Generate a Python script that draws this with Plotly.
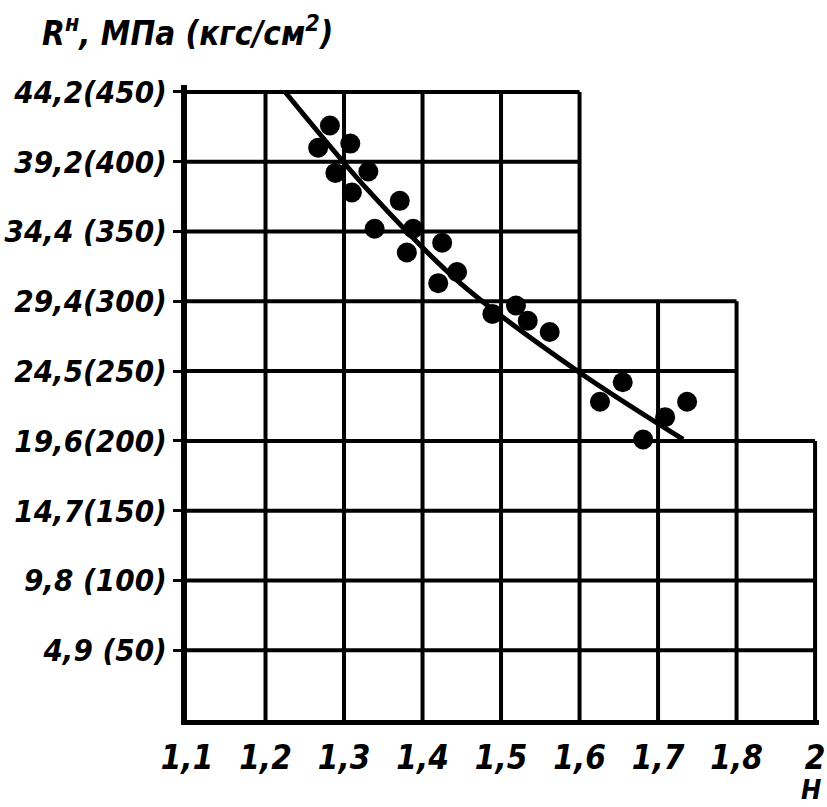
import plotly.graph_objects as go

# ---- data ----
pts_x = [1.282, 1.267, 1.308, 1.289, 1.331, 1.310, 1.371, 1.339, 1.388, 1.425, 1.380,
         1.444, 1.420, 1.489, 1.519, 1.534, 1.562, 1.626, 1.655, 1.681, 1.709, 1.737]
pts_y = [426, 410, 413, 392, 393, 378, 372, 352, 352, 342, 335,
         321, 313, 291, 297, 286, 278, 228, 242, 201, 217, 228]

fit_x = [1.225, 1.33, 1.448, 1.60, 1.732]
fit_y = [450, 380, 313, 249, 201]

x_ticks = [1.1, 1.2, 1.3, 1.4, 1.5, 1.6, 1.7, 1.8, 1.9]
x_labels = ["1,1", "1,2", "1,3", "1,4", "1,5", "1,6", "1,7", "1,8", "2"]
y_ticks = [50, 100, 150, 200, 250, 300, 350, 400, 450]
y_labels = ["4,9 (50)", "9,8 (100)", "14,7(150)", "19,6(200)", "24,5(250)",
            "29,4(300)", "34,4 (350)", "39,2(400)", "44,2(450)"]

# stepped grid outline: right edge of grid for each band (top value of band)
step_top = [450, 300, 200]
step_right = [1.6, 1.8, 1.9]

FONT = dict(family="DejaVu Sans Condensed, DejaVu Sans", size=32, color="black",
            weight="bold", style="italic")

fig = go.Figure()

shapes = []
GW = 4
def right_limit(v):
    r = step_right[0]
    for top, right in zip(step_top, step_right):
        if v <= top:
            r = right
    return r

def top_limit(x):
    t = step_top[0]
    for top, right in zip(step_top, step_right):
        if x <= right + 1e-9:
            t = top
            break
    return t

for v in y_ticks:
    shapes.append(dict(type="line", xref="x", yref="y", x0=x_ticks[0], x1=right_limit(v),
                       y0=v, y1=v, line=dict(color="black", width=GW), layer="below"))
for x in x_ticks[1:]:
    shapes.append(dict(type="line", xref="x", yref="y", x0=x, x1=x,
                       y0=0, y1=top_limit(x), line=dict(color="black", width=GW), layer="below"))

fig.add_trace(go.Scatter(x=fit_x, y=fit_y, mode="lines",
                         line=dict(color="black", width=5, shape="spline", smoothing=0.8),
                         showlegend=False, hoverinfo="skip"))
fig.add_trace(go.Scatter(x=pts_x, y=pts_y, mode="markers",
                         marker=dict(color="black", size=20), showlegend=False))

fig.update_layout(
    width=827, height=807,
    margin=dict(l=187, r=8, t=85, b=87, autoexpand=False),
    paper_bgcolor="white", plot_bgcolor="white",
    shapes=shapes,
    xaxis=dict(range=[1.1, 1.905], tickvals=x_ticks, ticktext=x_labels, showgrid=False,
               zeroline=False, showline=True, linecolor="black", linewidth=5,
               ticks="", tickfont=dict(FONT, size=33), ticklabelstandoff=4, automargin=False),
    yaxis=dict(range=[0, 455], tickvals=y_ticks, ticktext=y_labels, showgrid=False,
               zeroline=False, showline=True, linecolor="black", linewidth=6,
               ticks="outside", ticklen=8, tickwidth=3, tickcolor="black",
               tickfont=dict(FONT, size=31), ticklabelstandoff=0, automargin=False),
    annotations=[
        dict(text="R<sup>н</sup>, МПа (кгс/см<sup>2</sup>)", xref="paper", yref="paper",
             x=-0.2326, y=1.0835, xanchor="left", yanchor="middle", showarrow=False,
             font=dict(FONT, size=33)),
        dict(text="Н", xref="paper", yref="paper", x=0.987, y=-0.1087, xanchor="center",
             yanchor="middle", showarrow=False, font=dict(FONT, size=27)),
    ],
)

fig.write_html("out.html", config={"displayModeBar": False},
               post_script="document.body.style.margin='0';document.body.style.overflow='hidden';")
